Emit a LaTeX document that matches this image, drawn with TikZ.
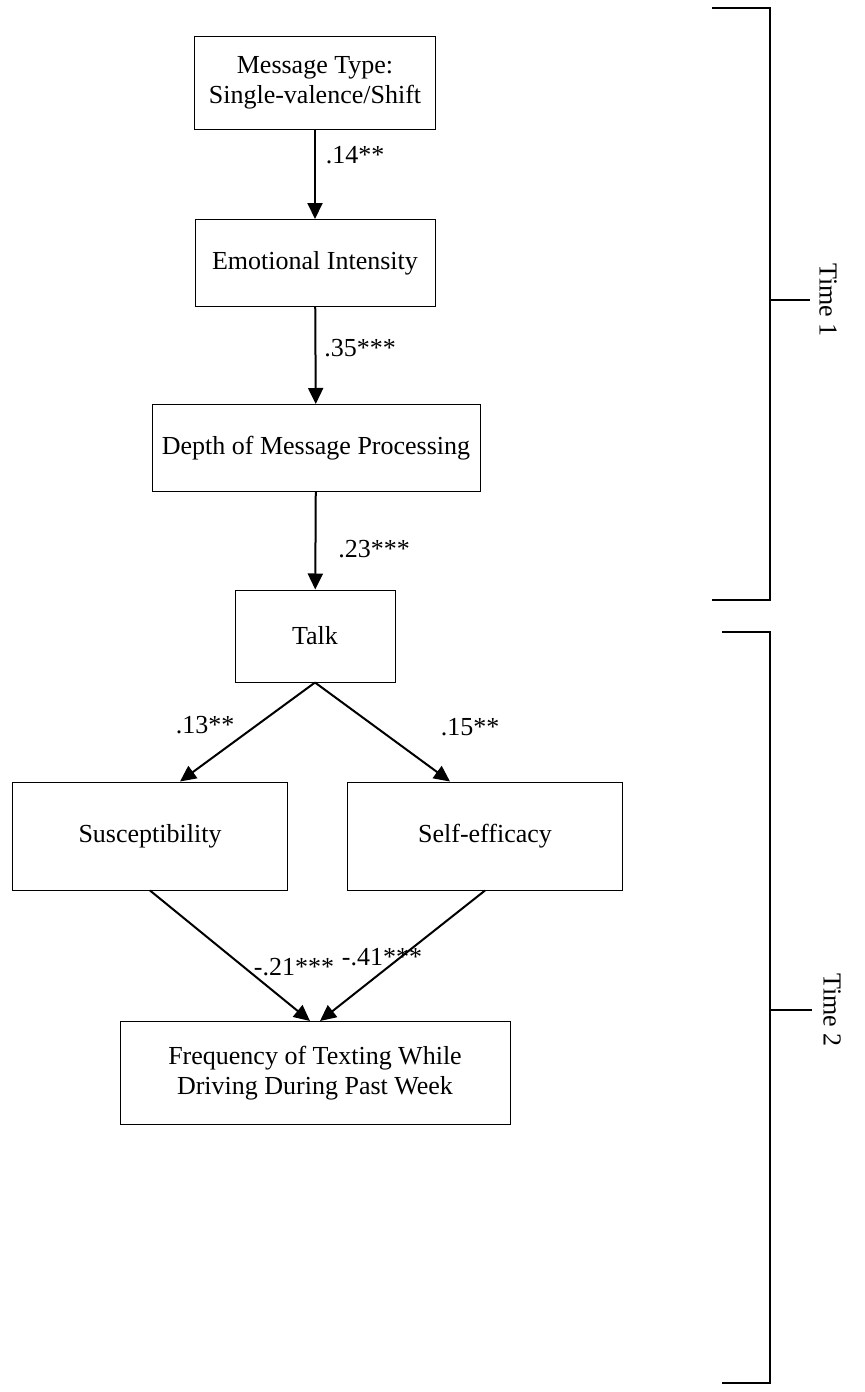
\documentclass[tikz,border=0pt]{standalone}
\usepackage{fontspec}
\setmainfont{Liberation Serif}
\usetikzlibrary{arrows.meta}

\begin{document}
\begin{tikzpicture}[x=0.5pt, y=-0.5pt,
		box/.style={draw, line width=0.5pt, align=center, inner sep=0pt, font=\fontsize{13}{15}\selectfont},
		link/.style={-{Triangle[length=8pt, width=7.5pt]}, line width=1pt},
		coef/.style={font=\fontsize{13}{15}\selectfont},
		timelabel/.style={rotate=-90, font=\fontsize{13}{15}\selectfont},
		bracket/.style={line width=0.8pt}]
		\useasboundingbox (0,0) rectangle (865,1392);
		
		% Boxes of the path model
		\node[box, minimum width=120.5pt, minimum height=46.5pt] (msg) at (315,83) {Message Type:\\Single-valence/Shift};
		\node[box, minimum width=120pt, minimum height=43.5pt] (emo) at (315,263) {Emotional Intensity};
		\node[box, minimum width=164pt, minimum height=43.5pt] (depth) at (316,448) {Depth of Message Processing};
		\node[box, minimum width=80pt, minimum height=46pt] (talk) at (315,636) {Talk};
		\node[box, minimum width=137.5pt, minimum height=54pt] (susc) at (150,836) {Susceptibility};
		\node[box, minimum width=137.5pt, minimum height=54pt] (self) at (485,836) {Self-efficacy};
		\node[box, minimum width=195pt, minimum height=51.5pt] (freq) at (315,1073) {Frequency of Texting While\\Driving During Past Week};
		
		% Paths
		\draw[link] (msg) -- (emo);
		\draw[link] (emo) -- (depth);
		\draw[link] (depth) -- (talk);
		\draw[link] (talk.south) -- ([xshift=15pt]susc.north);
		\draw[link] (talk.south) -- ([xshift=-17.5pt]self.north);
		\draw[link] (susc.south) -- ([xshift=-2.5pt]freq.north);
		\draw[link] (self.south) -- ([xshift=2.5pt]freq.north);
		
		% Path coefficients
		\node[coef] (c14) at (355,155) {.14**};
		\node[coef] (c35) at (360,348) {.35***};
		\node[coef] (c23) at (374,549) {.23***};
		\node[coef] (c13) at (205,725) {.13**};
		\node[coef] (c15) at (470,727) {.15**};
		\node[coef] (c21) at (294,967) {-.21***};
		\node[coef] (c41) at (382,957) {-.41***};
		
		% Time brackets
		\coordinate (t1top) at (712,8);
		\coordinate (t1bot) at (712,600);
		\draw[bracket] (t1top) -- (770,8) -- (770,600) -- (t1bot);
		\draw[bracket] (770,300) -- (810,300);
		\node[timelabel] (time1) at (828,300) {Time 1};
		
		\coordinate (t2top) at (722,632);
		\coordinate (t2bot) at (722,1383);
		\draw[bracket] (t2top) -- (770,632) -- (770,1383) -- (t2bot);
		\draw[bracket] (770,1010) -- (812,1010);
		\node[timelabel] (time2) at (832,1010) {Time 2};
	\end{tikzpicture}
\end{document}
